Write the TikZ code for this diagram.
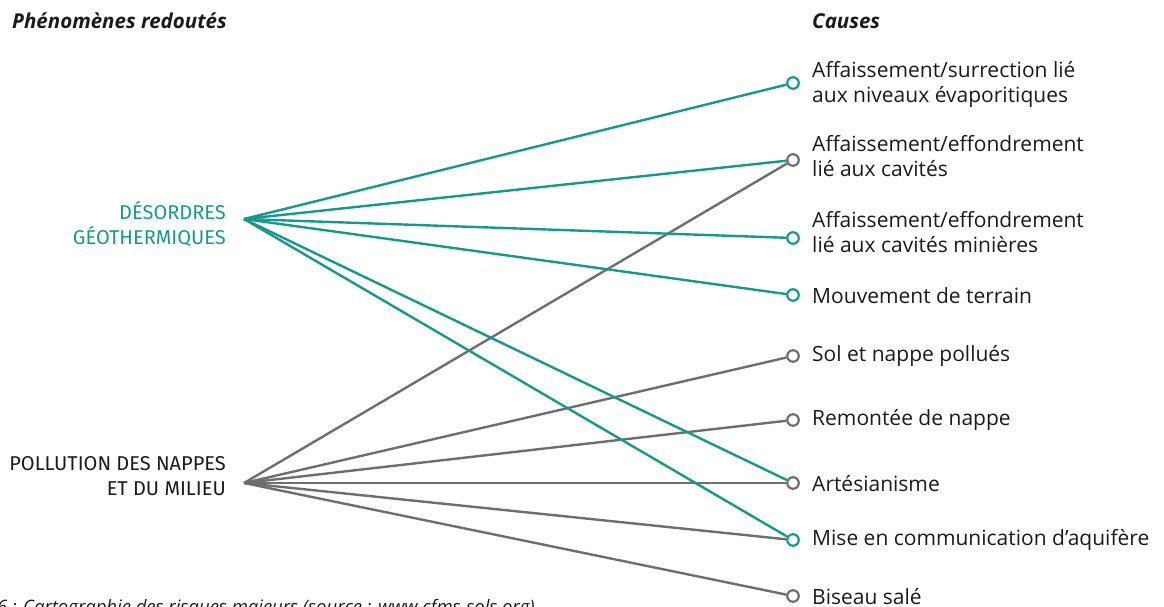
\documentclass[tikz,border=0pt]{standalone}
\usepackage{fontspec}
\setmainfont{Open Sans}
\newfontfamily\dinfont{Fira Sans}
\definecolor{teal1}{HTML}{17998A}
\definecolor{gray1}{HTML}{6E6E6E}
\definecolor{ink}{HTML}{1A1A1A}
\begin{document}
\begin{tikzpicture}[x=1pt,y=-1pt,
  link/.style={line width=2.4pt},
  grn/.style={draw=teal1},
  gry/.style={draw=gray1},
  endpt/.style={circle,line width=2.2pt,fill=white,minimum size=11.5pt,inner sep=0pt},
  cause/.style={anchor=west,align=left,text=ink,font=\fontsize{21}{25}\selectfont,inner sep=0pt},
  hub/.style={anchor=east,align=right,font=\dinfont\fontsize{20}{25}\selectfont,inner sep=0pt},
  head/.style={anchor=base west,text=ink,font=\bfseries\itshape\fontsize{20.5}{22}\selectfont,inner sep=0pt}]
\useasboundingbox (0,0) rectangle (1164,606);

% headings
\node[head] (h1) at (12,28) {Phénomènes redoutés};
\node[head] (h2) at (812,28) {Causes};

% left labels
\node[hub,text=teal1] (gtxt) at (226,224) {DÉSORDRES\\GÉOTHERMIQUES};
\node[hub,text=ink] (ptxt) at (226,476) {POLLUTION DES NAPPES\\ET DU MILIEU};
\coordinate (G) at (244,219);
\coordinate (P) at (244,483);

% end points
\node[endpt,draw=teal1] (c1) at (793,83) {};
\node[endpt,draw=gray1] (c2) at (793,160) {};
\node[endpt,draw=teal1] (c3) at (793,238) {};
\node[endpt,draw=teal1] (c4) at (793,295) {};
\node[endpt,draw=gray1] (c5) at (793,356) {};
\node[endpt,draw=gray1] (c6) at (793,420) {};
\node[endpt,draw=gray1] (c7) at (793,483) {};
\node[endpt,draw=teal1] (c8) at (793,540) {};
\node[endpt,draw=gray1] (c9) at (793,596) {};

% cause labels
\node[cause] (t1) at (812,84) {Affaissement/surrection lié\\aux niveaux évaporitiques};
\node[cause] (t2) at (812,156) {Affaissement/effondrement\\lié aux cavités};
\node[cause] (t3) at (812,232) {Affaissement/effondrement\\lié aux cavités minières};
\node[cause] (t4) at (812,296) {Mouvement de terrain};
\node[cause] (t5) at (812,356) {Sol et nappe pollués};
\node[cause] (t6) at (812,420) {Remontée de nappe};
\node[cause] (t7) at (812,484) {Artésianisme};
\node[cause] (t8) at (812,540) {Mise en communication d’aquifère};
\node[cause] (t9) at (812,597) {Biseau salé};

% gray links
\foreach \c in {c2,c5,c6,c7,c8,c9} \draw[link,gry] (P) -- (\c);
% green links
\foreach \c in {c1,c2,c3,c4,c7,c8} \draw[link,grn] (G) -- (\c);

% caption (cut by the page edge)
\node[anchor=base west,inner sep=0pt,text=ink,font=\itshape\fontsize{18.5}{20}\selectfont] (cap) at (-3,613) {6 : Cartographie des risques majeurs (source : www.cfms-sols.org)};
\end{tikzpicture}
\end{document}
